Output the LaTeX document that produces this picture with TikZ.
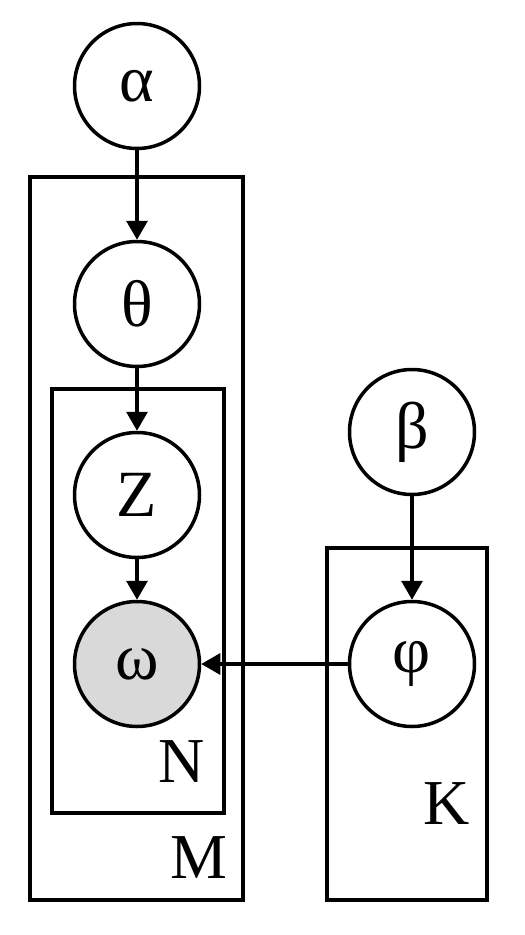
\documentclass[tikz,border=0pt]{standalone}
\usepackage{fontspec}
\setmainfont{Liberation Serif}
\usetikzlibrary{arrows.meta}
\begin{document}
\begin{tikzpicture}[x=1pt,y=-1pt,
  var/.style={circle,draw,line width=3.5pt,minimum size=125pt,inner sep=0pt,fill=white,font=\fontsize{66}{66}\selectfont},
  obs/.style={var,fill=obsgray},
  plate/.style={draw,line width=3.5pt},
  platelabel/.style={anchor=base,inner sep=0pt,font=\fontsize{64}{64}\selectfont},
  edge/.style={line width=3.2pt,-{Triangle[length=19pt,width=21pt]}}]
\definecolor{obsgray}{HTML}{D9D9D9}
\useasboundingbox (0,0) rectangle (525,935);
\draw[plate] (30,177) rectangle (243,900);
\draw[plate] (52,389) rectangle (224,813);
\draw[plate] (327,548) rectangle (487,900);
\node[platelabel] (Nl) at (182,782) {N};
\node[platelabel] (Ml) at (199,878) {M};
\node[platelabel] (Kl) at (447,824) {K};
\node[var] (alpha) at (137,86) {α};
\node[var] (theta) at (137,304) {θ};
\node[var] (z) at (137,495) {Z};
\node[obs] (omega) at (137,664) {ω};
\node[var] (beta) at (412,432) {β};
\node[var] (phi) at (412,664) {φ};
\draw[edge] (alpha) -- (theta);
\draw[edge] (theta) -- (z);
\draw[edge] (z) -- (omega);
\draw[edge] (beta) -- (phi);
\draw[edge] (phi) -- (omega);
\end{tikzpicture}
\end{document}
